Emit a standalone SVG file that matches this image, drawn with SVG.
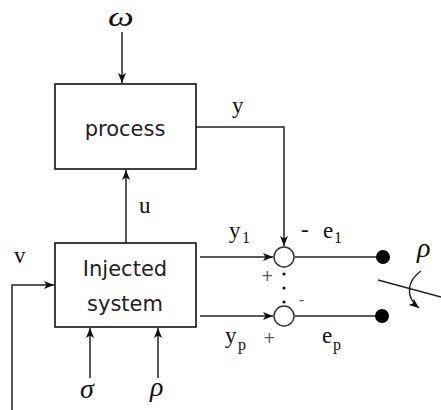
<svg xmlns="http://www.w3.org/2000/svg" width="441" height="410" viewBox="0 0 441 410">
<style>
.box{fill:#fff;stroke:#111;stroke-width:1.6}
.ln{fill:none;stroke:#222;stroke-width:1.5}
.bt{font-family:"DejaVu Sans",sans-serif;font-size:21px;fill:#222;text-anchor:middle}
.lb{font-family:"Liberation Serif",serif;font-size:23px;fill:#111}
.sb{font-family:"Liberation Serif",serif;font-size:16px;fill:#111}
.gk{font-family:"Liberation Serif",serif;font-style:italic;font-size:28px;fill:#111}
.sg{font-family:"DejaVu Sans",sans-serif;font-size:15px;fill:#555}
</style>
<defs>
<marker id="ar" markerUnits="userSpaceOnUse" markerWidth="11" markerHeight="9" refX="10" refY="4" orient="auto">
<path d="M0,0 L10,4 L0,8 L2.5,4 z" fill="#111"/>
</marker>
</defs>
<g id="connectors">
<line class="ln" x1="122" y1="32" x2="122" y2="83" marker-end="url(#ar)"/>
<line class="ln" x1="126" y1="243" x2="126" y2="170" marker-end="url(#ar)"/>
<polyline class="ln" points="196,127 284,127 284,246" marker-end="url(#ar)"/>
<line class="ln" x1="200" y1="257" x2="273" y2="257" marker-end="url(#ar)"/>
<line class="ln" x1="200" y1="316" x2="273" y2="316" marker-end="url(#ar)"/>
<line class="ln" x1="295" y1="257" x2="383" y2="257"/>
<line class="ln" x1="295" y1="316" x2="382" y2="316"/>
<polyline class="ln" points="12,410 12,285 54,285" marker-end="url(#ar)"/>
<line class="ln" x1="90" y1="378" x2="90" y2="328" marker-end="url(#ar)"/>
<line class="ln" x1="158" y1="378" x2="158" y2="328" marker-end="url(#ar)"/>
<line class="ln" x1="378" y1="280" x2="441" y2="297"/>
<path class="ln" d="M421,271 C408,280 404,296 419,308" marker-end="url(#ar)"/>
</g>
<g id="process">
<rect class="box" x="55" y="84" width="141" height="85"/>
<text class="bt" x="125" y="136">process</text>
</g>
<g id="injected">
<rect class="box" x="55" y="243" width="141" height="84"/>
<text class="bt" x="125" y="276">Injected</text>
<text class="bt" x="125" y="311">system</text>
</g>
<g id="sum1">
<circle cx="284" cy="257" r="10" fill="#fff" stroke="#333" stroke-width="1.5"/>
</g>
<g id="sump">
<circle cx="284" cy="316" r="10" fill="#fff" stroke="#333" stroke-width="1.5"/>
</g>
<g id="dots">
<circle cx="284" cy="274" r="1.6" fill="#111"/>
<circle cx="284" cy="288" r="1.6" fill="#111"/>
<circle cx="284" cy="302" r="1.6" fill="#111"/>
</g>
<g id="term1"><circle cx="383" cy="257" r="7" fill="#000"/></g>
<g id="termp"><circle cx="382" cy="316" r="7" fill="#000"/></g>
<g id="labels">
<text class="gk" transform="translate(108,26) scale(1.3,1)" x="0" y="0">ω</text>
<text class="lb" x="139" y="213">u</text>
<text class="lb" x="232" y="113">y</text>
<text class="lb" x="229" y="238">y</text><text class="sb" x="242" y="243">1</text>
<text class="lb" x="225" y="343">y</text><text class="sb" x="238" y="350">p</text>
<text class="lb" x="301" y="237">-</text>
<text class="lb" x="323" y="238">e</text><text class="sb" x="334" y="243">1</text>
<text class="lb" x="322" y="343">e</text><text class="sb" x="333" y="350">p</text>
<text class="sg" x="261" y="281">+</text>
<text class="sg" x="263" y="343">+</text>
<text class="sg" x="299" y="305">-</text>
<text class="lb" x="14" y="263">v</text>
<text class="gk" x="80" y="398">σ</text>
<text class="gk" x="150" y="396">ρ</text>
<text class="gk" x="417" y="257">ρ</text>
</g>
</svg>
